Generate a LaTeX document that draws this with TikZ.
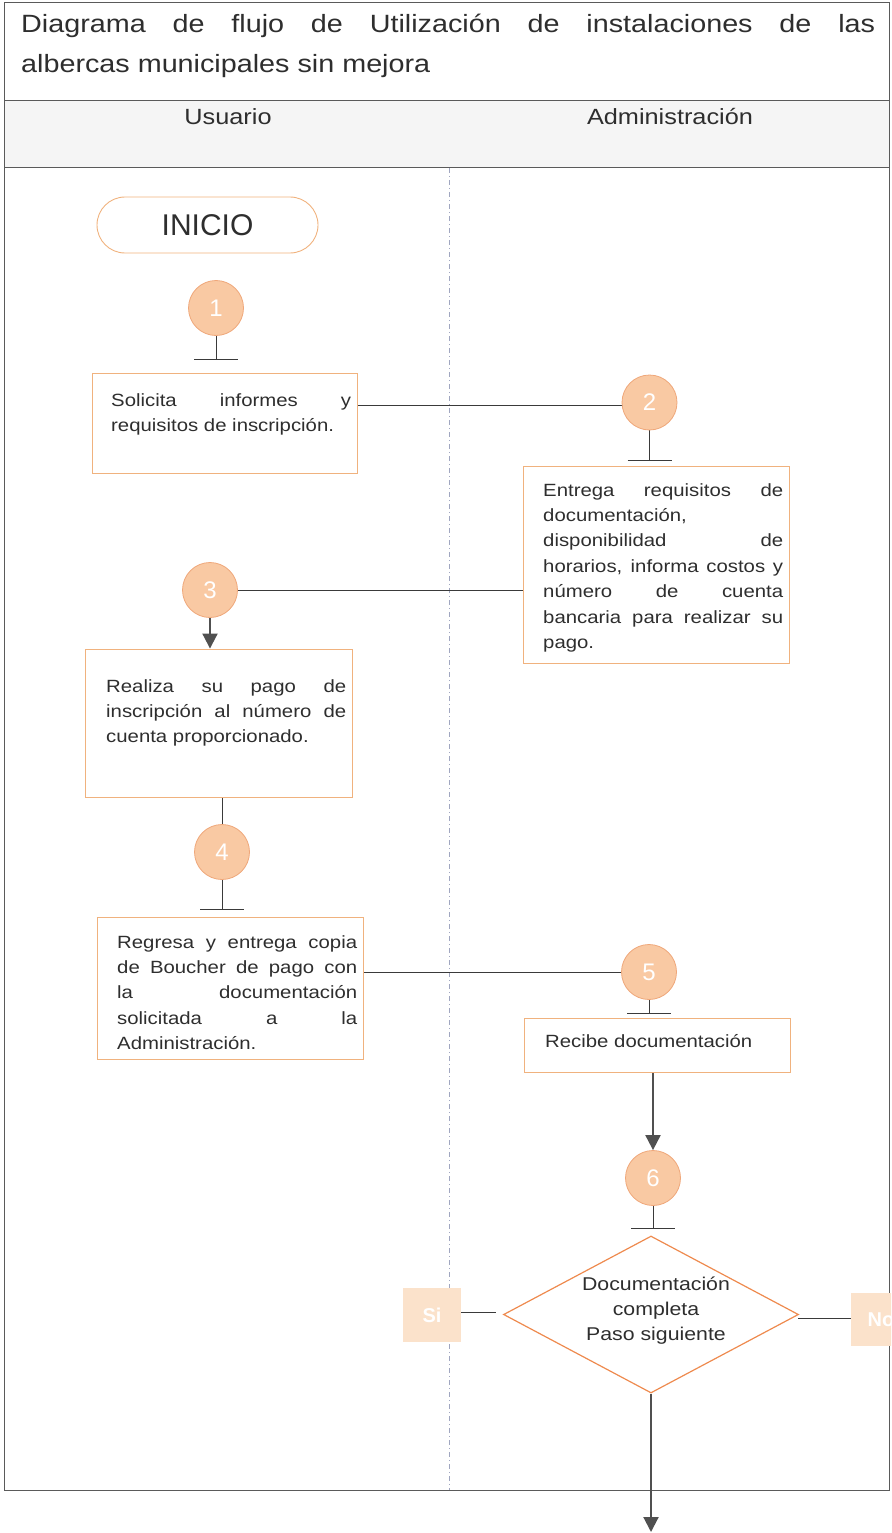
\documentclass[tikz,border=0pt]{standalone}
\usepackage{fontspec}
\setmainfont{Liberation Sans}
\newfontfamily\widesans{Liberation Sans}[FakeStretch=1.15]
\usetikzlibrary{shapes.geometric,arrows.meta,backgrounds}
\definecolor{circfill}{HTML}{F9C9A3}
\definecolor{circline}{HTML}{EFA77A}
\definecolor{boxline}{HTML}{F0B27E}
\definecolor{diamline}{HTML}{EE8A4E}
\definecolor{sifill}{HTML}{FBE2CB}
\definecolor{lineclr}{HTML}{3A3A3A}
\definecolor{arrclr}{HTML}{505050}
\definecolor{frameclr}{HTML}{5A5A5A}
\definecolor{laneclr}{HTML}{A0A6C0}
\definecolor{headfill}{HTML}{F5F5F5}
\definecolor{txtclr}{HTML}{2E2E2E}
\newcommand{\jl}[1]{\hbox to 240pt{#1}}
\tikzset{
  num/.style={circle, fill=circfill, draw=circline, line width=0.8pt, minimum size=55pt, inner sep=0pt, text=white, font=\fontsize{24}{24}\selectfont},
  procbox/.style={rectangle, draw=boxline, line width=0.9pt, inner sep=0pt},
  btxt/.style={anchor=base west, inner sep=0pt, text=txtclr, font=\widesans\fontsize{17.7}{25.4}\selectfont},
  conn/.style={draw=lineclr, line width=1pt},
  arr/.style={draw=arrclr, line width=2pt, -{Triangle[width=15pt,length=15pt]}},
  frame/.style={draw=frameclr, line width=1pt},
  choice/.style={rectangle, fill=sifill, inner sep=0pt, text=white, font=\bfseries\fontsize{20}{20}\selectfont},
}
\begin{document}
\begin{tikzpicture}[x=1pt,y=-1pt]
\useasboundingbox (0,0) rectangle (891,1533);
\clip (0,0) rectangle (891,1533);
% title and lane headers
\node[anchor=base west, inner sep=0pt, text=txtclr, font=\widesans\fontsize{25}{40}\selectfont] (title) at (21,33)
  {\vtop{\hbox to 854pt{Diagrama de flujo de Utilización de instalaciones de las}\hbox{albercas municipales sin mejora}}};
\node[anchor=base, inner sep=0pt, text=txtclr, font=\widesans\fontsize{22}{24}\selectfont] (usr) at (228,125) {Usuario};
\node[anchor=base, inner sep=0pt, text=txtclr, font=\widesans\fontsize{22}{24}\selectfont] (adm) at (670,125) {Administración};
% start
\node[rectangle, rounded corners=28pt, draw=boxline, line width=0.9pt, minimum width=221pt, minimum height=56pt, text=txtclr, font=\fontsize{30}{30}\selectfont] (inicio) at (207.5,225) {INICIO};
% process boxes
\node[procbox, minimum width=265pt, minimum height=100pt] (b1) at (224.5,423) {};
\node[procbox, minimum width=266pt, minimum height=197pt] (b2) at (656,564.5) {};
\node[procbox, minimum width=267pt, minimum height=148pt] (b3) at (218.5,723) {};
\node[procbox, minimum width=266pt, minimum height=142pt] (b4) at (230,988) {};
\node[procbox, minimum width=266pt, minimum height=54pt] (b5) at (657,1045) {};
\node[btxt] (t1) at (111,406) {\vtop{\jl{Solicita informes y}\hbox{requisitos de inscripción.}}};
\node[btxt] (t2) at (543,496) {\vtop{\jl{Entrega requisitos de}\hbox{documentación,}\jl{disponibilidad de}\jl{horarios, informa costos y}\jl{número de cuenta}\jl{bancaria para realizar su}\hbox{pago.}}};
\node[btxt] (t3) at (106,692) {\vtop{\jl{Realiza su pago de}\jl{inscripción al número de}\hbox{cuenta proporcionado.}}};
\node[btxt] (t4) at (117,948) {\vtop{\jl{Regresa y entrega copia}\jl{de Boucher de pago con}\jl{la documentación}\jl{solicitada a la}\hbox{Administración.}}};
\node[btxt] (t5) at (545,1047) {Recibe documentación};
% numbered circles
\node[num] (c1) at (216,308) {1};
\node[num] (c2) at (649.5,402.5) {2};
\node[num] (c3) at (210,590) {3};
\node[num] (c4) at (222,852) {4};
\node[num] (c5) at (649,972) {5};
\node[num] (c6) at (653,1178) {6};
% decision
\node[diamond, draw=diamline, line width=1.2pt, minimum width=295pt, minimum height=157pt, inner sep=0pt, aspect=1.88] (d) at (651,1314.5) {};
\node[align=center, inner sep=0pt, text=txtclr, font=\widesans\fontsize{18.5}{25}\selectfont] (dt) at (656,1311) {Documentación\\completa\\Paso siguiente};
\node[choice, minimum width=58pt, minimum height=54pt] (si) at (432,1315) {Si};
\node[choice, minimum width=60pt, minimum height=53pt] (no) at (881,1319.5) {No};
% free ends
\coordinate (bar1) at (216,359);
\coordinate (bar2) at (649.5,460);
\coordinate (bar4) at (222,909);
\coordinate (bar5) at (649,1013);
\coordinate (bar6) at (653,1228);
\coordinate (sie) at (496,1312);
\coordinate (nos) at (798,1318);
\coordinate (endp) at (651,1532);
\begin{scope}[on background layer]
  % header band, frame and lanes
  \fill[headfill] (4,101) rectangle (889,168);
  \draw[frame] (4,3) rectangle (889,1490);
  \draw[frame] (4,101) -- (889,101);
  \draw[frame] (4,168) -- (889,168);
  \draw[draw=laneclr, line width=0.6pt, dash pattern=on 5pt off 3pt on 1pt off 3pt] (449,168) -- (449,1490);
  % connectors
  \draw[conn] (c1) -- (bar1);
  \draw[conn] ([xshift=-22pt]bar1) -- ([xshift=22pt]bar1);
  \draw[conn] (b1.east |- 0,405) -- (c2 |- 0,405);
  \draw[conn] (c2) -- (bar2);
  \draw[conn] ([xshift=-22pt]bar2) -- ([xshift=22pt]bar2);
  \draw[conn] (c3) -- (c3 -| b2.west);
  \draw[arr] (c3) -- (c3 |- b3.north);
  \draw[conn] (c4 |- b3.south) -- (c4);
  \draw[conn] (c4) -- (bar4);
  \draw[conn] ([xshift=-22pt]bar4) -- ([xshift=22pt]bar4);
  \draw[conn] (b4.east |- c5) -- (c5);
  \draw[conn] (c5) -- (bar5);
  \draw[conn] ([xshift=-22pt]bar5) -- ([xshift=22pt]bar5);
  \draw[arr] (c6 |- b5.south) -- (c6.north);
  \draw[conn] (c6) -- (bar6);
  \draw[conn] ([xshift=-22pt]bar6) -- ([xshift=22pt]bar6);
  \draw[conn] (si.east |- sie) -- (sie);
  \draw[conn] (nos) -- (no.west |- nos);
  \draw[arr] (d.south) -- (endp);
\end{scope}
\end{tikzpicture}
\end{document}
